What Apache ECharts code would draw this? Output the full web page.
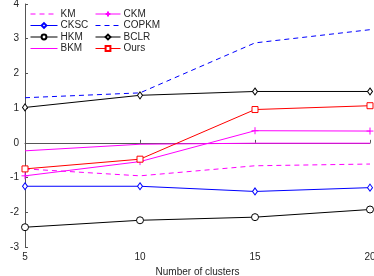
<!DOCTYPE html>
<html><head><meta charset="utf-8">
<script src="https://cdn.jsdelivr.net/npm/echarts@6/dist/echarts.min.js"></script>
<style>html,body{margin:0;padding:0;background:#fff}#c{width:374px;height:276px}</style>
</head><body><div id="c"></div>
<script>
const clusters = [5, 10, 15, 20];
const KM = [-0.75, -0.95, -0.66, -0.61];
const CKM = [-0.95, -0.54, 0.35, 0.34];
const CKSC = [-1.25, -1.25, -1.40, -1.29];
const COPKM = [1.30, 1.44, 2.88, 3.26];
const HKM = [-2.43, -2.23, -2.14, -1.92];
const BCLR = [1.02, 1.37, 1.48, 1.48];
const BKM = [-0.23, -0.04, -0.01, -0.01];
const Ours = [-0.75, -0.47, 0.96, 1.07];
const yTicks = [-3, -2, -1, 0, 1, 2, 3, 4];

const pair = a => clusters.map((x, i) => [x, a[i]]);
const plus = 'path://M5,0L5,10M0,5L10,5';
function s(name, data, color, dash, symbol, size) {
  return {
    name, type: 'line', data: pair(data), color, symbol: symbol || 'none', symbolSize: size || 6,
    showSymbol: !!symbol, animation: false,
    lineStyle: { color, width: 1, type: dash ? [5, 4] : 'solid' },
    itemStyle: { color: symbol === plus ? color : '#fff', borderColor: color, borderWidth: 1 }
  };
}
function li(name, hasSymbol, color, dash) {
  const o = { name, lineStyle: { color, width: 1, type: dash ? [5, 4] : 'solid' } };
  if (!hasSymbol) o.itemStyle = { opacity: 0, borderWidth: 0 };
  return o;
}
const chart = echarts.init(document.getElementById('c'));
const txt = { color: '#262626', fontFamily: 'Liberation Sans, Arial, sans-serif', fontSize: 10 };
const legTxt = Object.assign({ lineHeight: 10, padding: [0, 0, 0, -2] }, txt);
chart.setOption({
  backgroundColor: '#fff',
  animation: false,
  grid: { left: 25, right: 4, top: 4, bottom: 29, outerBoundsMode: 'none', containLabel: false },
  xAxis: {
    type: 'value', min: 5, max: 20, interval: 5,
    name: 'Number of clusters', nameLocation: 'middle', nameGap: 20,
    nameTextStyle: txt,
    axisLine: { lineStyle: { color: '#555' } },
    axisTick: { inside: true, length: 3, lineStyle: { color: '#555' } },
    axisLabel: Object.assign({ margin: 5 }, txt),
    splitLine: { show: false }
  },
  yAxis: {
    type: 'value', min: -3, max: 4, interval: 1,
    name: 'Run Time (Log Scale)', nameLocation: 'middle', nameGap: 14,
    nameTextStyle: txt,
    axisLine: { show: true, lineStyle: { color: '#555' } },
    axisTick: { show: true, inside: true, length: 3, lineStyle: { color: '#555' } },
    axisLabel: Object.assign({ margin: 6, formatter: v => yTicks.includes(v) ? String(v) : '' }, txt),
    splitLine: { show: false }
  },
  legend: [
    { data: [li('KM', false, '#ff00ff', true), li('CKSC', true, '#0000ff'), li('HKM', true, '#000000'), li('BKM', false, '#ff00ff')],
      orient: 'vertical', left: 30, top: 9, itemGap: 1.5, padding: 0,
      itemWidth: 27, itemHeight: 6, textStyle: legTxt },
    { data: [li('CKM', true, '#ff00ff'), li('COPKM', false, '#0000ff', true), li('BCLR', true, '#000000'), li('Ours', true, '#ff0000')],
      orient: 'vertical', left: 95, top: 9, itemGap: 1.5, padding: 0,
      itemWidth: 25, itemHeight: 6, textStyle: legTxt }
  ],
  series: [
    s('KM', KM, '#ff00ff', true),
    s('CKM', CKM, '#ff00ff', false, plus, 7),
    s('CKSC', CKSC, '#0000ff', false, 'diamond', [5, 7]),
    s('COPKM', COPKM, '#0000ff', true),
    s('HKM', HKM, '#000000', false, 'circle', 7),
    s('BCLR', BCLR, '#000000', false, 'diamond', [5, 7]),
    s('BKM', BKM, '#ff00ff', false),
    s('Ours', Ours, '#ff0000', false, 'rect', 6)
  ]
});
</script></body></html>
